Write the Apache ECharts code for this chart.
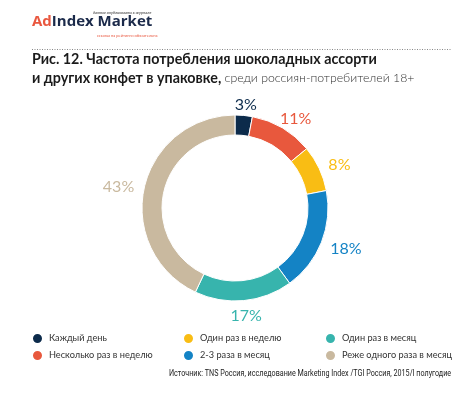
<!DOCTYPE html>
<html>
<head>
<meta charset="utf-8">
<script src="https://cdn.jsdelivr.net/npm/echarts@6/dist/echarts.min.js"></script>
<style>
html,body{margin:0;padding:0;background:#fff;}
#chart{width:474px;height:395px;}
</style>
</head>
<body>
<div id="chart"></div>
<script>
// Data
var categories = ['Каждый день','Несколько раз в неделю','Один раз в неделю','2-3 раза в месяц','Один раз в месяц','Реже одного раза в месяц'];
var values = [3, 11, 8, 18, 17, 43];
var colors = ['#0c2b4b','#e8583d','#f9bd14','#1483c5','#37b4ad','#c9b99f'];
var legendColumns = [
  ['Каждый день','Несколько раз в неделю'],
  ['Один раз в неделю','2-3 раза в месяц'],
  ['Один раз в месяц','Реже одного раза в месяц']
];
var titleLine1 = 'Рис. 12. Частота потребления шоколадных ассорти';
var titleLine2Bold = 'и других конфет в упаковке,';
var titleLine2Light = ' среди россиян-потребителей 18+';
var sourceText = 'Источник: TNS Россия, исследование Marketing Index /TGI Россия, 2015/I полугодие';

var chart = echarts.init(document.getElementById('chart'), null, {renderer:'canvas'});

var CX = 235, CY = 208;

var pieData = categories.map(function(c,i){
  return {name:c, value:values[i], itemStyle:{color:colors[i]}};
});
var labelData = categories.map(function(c,i){
  return {name:c+' ', value:values[i], label:{color:colors[i]}};
});

var legendLefts = [31, 182, 324];
var legends = legendColumns.map(function(col, k){
  return {
    data: col,
    orient: 'vertical',
    left: legendLefts[k],
    top: 332,
    padding: 0,
    icon: 'circle',
    itemWidth: 11,
    itemHeight: 11,
    itemGap: 4,
    selectedMode: false,
    textStyle: {fontFamily:'Lato', fontSize:9.2, color:'#333', padding:[0,0,0,1]}
  };
});

var option = {
  backgroundColor: '#fff',
  animation: false,
  legend: legends,
  graphic: [
    {type:'text', left:32, top:14, style:{
      text:'{a|Ad}{b|Index Market}',
      rich:{
        a:{fontFamily:'Open Sans', fontWeight:'bold', fontSize:15, fill:'#e9573f'},
        b:{fontFamily:'Open Sans', fontWeight:'bold', fontSize:15, fill:'#1b2a4a'}
      }
    }},
    {type:'text', left:93, top:11, style:{text:'данные опубликованы в журнале', font:'italic 4px Lato', fill:'#333'}},
    {type:'text', left:97, top:34, style:{text:'ссылка на рейтинги обязательна', font:'4px Lato', fill:'#e9573f'}},
    {type:'line', shape:{x1:32, y1:49.5, x2:452, y2:49.5}, style:{stroke:'#888', lineWidth:1, lineDash:[1,1.5]}},
    {type:'text', left:32, top:52, style:{
      text:'{b|'+titleLine1+'}\n{b|'+titleLine2Bold+'}{l|'+titleLine2Light+'}',
      rich:{
        b:{fontFamily:'Lato', fontWeight:'bold', fontSize:14.3, fill:'#1a1a1a', lineHeight:19},
        l:{fontFamily:'Lato', fontWeight:300, fontSize:12.3, fill:'#333', lineHeight:19}
      }
    }},
    {type:'text', x:169, y:369, scaleX:0.755, style:{text:sourceText, font:'9.5px Roboto', fill:'#222'}}
  ],
  series: [
    {
      type:'pie',
      center:[CX,CY],
      radius:[73,93],
      startAngle:90,
      clockwise:true,
      silent:true,
      itemStyle:{borderColor:'#fff', borderWidth:1},
      label:{show:false},
      labelLine:{show:false},
      data: pieData
    },
    {
      type:'pie',
      center:[CX,CY],
      radius:[93,113],
      startAngle:90,
      clockwise:true,
      silent:true,
      itemStyle:{color:'rgba(0,0,0,0)'},
      label:{show:true, position:'inside', formatter:'{c}%', fontFamily:'Lato', fontSize:16},
      labelLine:{show:false},
      labelLayout: function(p){
        var r = p.labelRect;
        var cx = r.x + r.width/2, cy = r.y + r.height/2;
        var d = Math.sqrt((cx-CX)*(cx-CX)+(cy-CY)*(cy-CY)) || 1;
        return {dx: (cx-CX)/d * r.width/2 * 0.85, dy: 2};
      },
      data: labelData
    }
  ]
};
chart.setOption(option);
</script>
</body>
</html>
